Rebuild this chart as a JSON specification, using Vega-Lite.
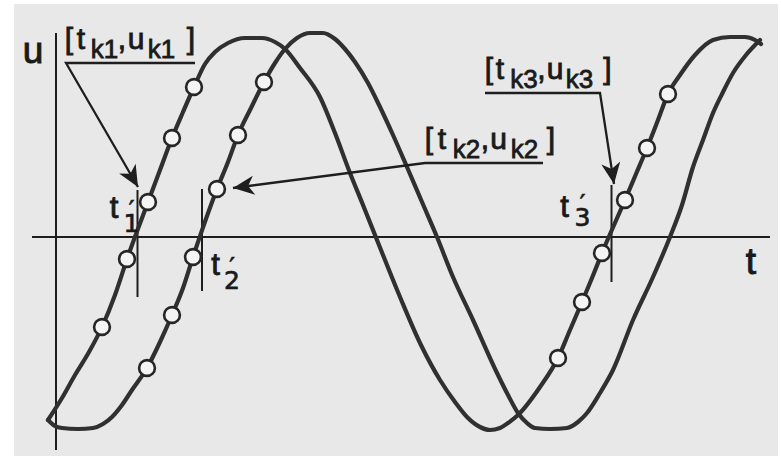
{
  "$schema": "https://vega.github.io/schema/vega-lite/v6.json",
  "width": 764,
  "height": 452,
  "autosize": {"type": "none"},
  "padding": {"left": 14, "top": 4, "right": 3, "bottom": 0},
  "background": "#ffffff",
  "config": {"view": {"fill": "#e8e8e8", "stroke": null}},
  "datasets": {
    "curves": [
      {"curve": "a", "t": -0.8, "u": -0.915, "sampled": false},
      {"curve": "a", "t": 0.6, "u": -0.805, "sampled": false},
      {"curve": "a", "t": 1.9, "u": -0.69, "sampled": false},
      {"curve": "a", "t": 3.3, "u": -0.575, "sampled": false},
      {"curve": "a", "t": 4.6, "u": -0.45, "sampled": true},
      {"curve": "a", "t": 5.9, "u": -0.29, "sampled": false},
      {"curve": "a", "t": 7.1, "u": -0.11, "sampled": true},
      {"curve": "a", "t": 9.2, "u": 0.175, "sampled": true},
      {"curve": "a", "t": 10.4, "u": 0.335, "sampled": false},
      {"curve": "a", "t": 11.6, "u": 0.495, "sampled": true},
      {"curve": "a", "t": 12.7, "u": 0.625, "sampled": false},
      {"curve": "a", "t": 13.8, "u": 0.75, "sampled": true},
      {"curve": "a", "t": 14.9, "u": 0.865, "sampled": false},
      {"curve": "a", "t": 15.9, "u": 0.925, "sampled": false},
      {"curve": "a", "t": 17.2, "u": 0.97, "sampled": false},
      {"curve": "a", "t": 18.9, "u": 0.995, "sampled": false},
      {"curve": "a", "t": 20.6, "u": 0.995, "sampled": false},
      {"curve": "a", "t": 21.9, "u": 0.975, "sampled": false},
      {"curve": "a", "t": 22.9, "u": 0.94, "sampled": false},
      {"curve": "a", "t": 24.4, "u": 0.845, "sampled": false},
      {"curve": "a", "t": 26.4, "u": 0.7, "sampled": false},
      {"curve": "a", "t": 27.9, "u": 0.52, "sampled": false},
      {"curve": "a", "t": 29.4, "u": 0.32, "sampled": false},
      {"curve": "a", "t": 30.7, "u": 0.16, "sampled": false},
      {"curve": "a", "t": 32.1, "u": -0.015, "sampled": false},
      {"curve": "a", "t": 34.4, "u": -0.3, "sampled": false},
      {"curve": "a", "t": 36.4, "u": -0.53, "sampled": false},
      {"curve": "a", "t": 38.4, "u": -0.715, "sampled": false},
      {"curve": "a", "t": 39.9, "u": -0.825, "sampled": false},
      {"curve": "a", "t": 41.1, "u": -0.9, "sampled": false},
      {"curve": "a", "t": 42.4, "u": -0.95, "sampled": false},
      {"curve": "a", "t": 43.4, "u": -0.965, "sampled": false},
      {"curve": "a", "t": 44.4, "u": -0.955, "sampled": false},
      {"curve": "a", "t": 45.2, "u": -0.93, "sampled": false},
      {"curve": "a", "t": 46.2, "u": -0.89, "sampled": false},
      {"curve": "a", "t": 48.4, "u": -0.75, "sampled": false},
      {"curve": "a", "t": 50.2, "u": -0.605, "sampled": true},
      {"curve": "a", "t": 51.4, "u": -0.465, "sampled": false},
      {"curve": "a", "t": 52.6, "u": -0.325, "sampled": true},
      {"curve": "a", "t": 53.6, "u": -0.205, "sampled": false},
      {"curve": "a", "t": 54.6, "u": -0.08, "sampled": true},
      {"curve": "a", "t": 56.9, "u": 0.185, "sampled": true},
      {"curve": "a", "t": 58.0, "u": 0.315, "sampled": false},
      {"curve": "a", "t": 59.1, "u": 0.445, "sampled": true},
      {"curve": "a", "t": 60.2, "u": 0.585, "sampled": false},
      {"curve": "a", "t": 61.2, "u": 0.715, "sampled": true},
      {"curve": "a", "t": 62.4, "u": 0.81, "sampled": false},
      {"curve": "a", "t": 63.9, "u": 0.91, "sampled": false},
      {"curve": "a", "t": 65.7, "u": 0.985, "sampled": false},
      {"curve": "a", "t": 67.4, "u": 1.0, "sampled": false},
      {"curve": "a", "t": 68.9, "u": 1.0, "sampled": false},
      {"curve": "a", "t": 69.9, "u": 0.985, "sampled": false},
      {"curve": "a", "t": 70.5, "u": 0.965, "sampled": false},
      {"curve": "b", "t": -0.8, "u": -0.915, "sampled": false},
      {"curve": "b", "t": -0.1, "u": -0.945, "sampled": false},
      {"curve": "b", "t": 0.6, "u": -0.955, "sampled": false},
      {"curve": "b", "t": 2.2, "u": -0.96, "sampled": false},
      {"curve": "b", "t": 3.7, "u": -0.955, "sampled": false},
      {"curve": "b", "t": 4.7, "u": -0.935, "sampled": false},
      {"curve": "b", "t": 5.6, "u": -0.9, "sampled": false},
      {"curve": "b", "t": 6.6, "u": -0.84, "sampled": false},
      {"curve": "b", "t": 7.6, "u": -0.765, "sampled": false},
      {"curve": "b", "t": 9.1, "u": -0.655, "sampled": true},
      {"curve": "b", "t": 10.4, "u": -0.525, "sampled": false},
      {"curve": "b", "t": 11.6, "u": -0.39, "sampled": true},
      {"curve": "b", "t": 12.7, "u": -0.255, "sampled": false},
      {"curve": "b", "t": 13.7, "u": -0.1, "sampled": true},
      {"curve": "b", "t": 16.1, "u": 0.24, "sampled": true},
      {"curve": "b", "t": 17.2, "u": 0.375, "sampled": false},
      {"curve": "b", "t": 18.2, "u": 0.51, "sampled": true},
      {"curve": "b", "t": 19.5, "u": 0.645, "sampled": false},
      {"curve": "b", "t": 20.8, "u": 0.775, "sampled": true},
      {"curve": "b", "t": 21.9, "u": 0.87, "sampled": false},
      {"curve": "b", "t": 22.9, "u": 0.94, "sampled": false},
      {"curve": "b", "t": 24.1, "u": 0.995, "sampled": false},
      {"curve": "b", "t": 25.4, "u": 1.02, "sampled": false},
      {"curve": "b", "t": 26.7, "u": 1.02, "sampled": false},
      {"curve": "b", "t": 27.9, "u": 0.99, "sampled": false},
      {"curve": "b", "t": 28.9, "u": 0.94, "sampled": false},
      {"curve": "b", "t": 29.9, "u": 0.875, "sampled": false},
      {"curve": "b", "t": 31.2, "u": 0.77, "sampled": false},
      {"curve": "b", "t": 32.4, "u": 0.65, "sampled": false},
      {"curve": "b", "t": 33.7, "u": 0.51, "sampled": false},
      {"curve": "b", "t": 35.1, "u": 0.35, "sampled": false},
      {"curve": "b", "t": 36.6, "u": 0.175, "sampled": false},
      {"curve": "b", "t": 38.1, "u": 0.0, "sampled": false},
      {"curve": "b", "t": 39.7, "u": -0.2, "sampled": false},
      {"curve": "b", "t": 41.7, "u": -0.415, "sampled": false},
      {"curve": "b", "t": 44.1, "u": -0.68, "sampled": false},
      {"curve": "b", "t": 45.2, "u": -0.79, "sampled": false},
      {"curve": "b", "t": 46.2, "u": -0.88, "sampled": false},
      {"curve": "b", "t": 47.1, "u": -0.93, "sampled": false},
      {"curve": "b", "t": 47.9, "u": -0.955, "sampled": false},
      {"curve": "b", "t": 49.4, "u": -0.96, "sampled": false},
      {"curve": "b", "t": 51.1, "u": -0.955, "sampled": false},
      {"curve": "b", "t": 52.2, "u": -0.925, "sampled": false},
      {"curve": "b", "t": 53.1, "u": -0.88, "sampled": false},
      {"curve": "b", "t": 54.4, "u": -0.78, "sampled": false},
      {"curve": "b", "t": 55.7, "u": -0.665, "sampled": false},
      {"curve": "b", "t": 57.7, "u": -0.415, "sampled": false},
      {"curve": "b", "t": 59.7, "u": -0.2, "sampled": false},
      {"curve": "b", "t": 61.4, "u": 0.0, "sampled": false},
      {"curve": "b", "t": 62.6, "u": 0.16, "sampled": false},
      {"curve": "b", "t": 63.7, "u": 0.35, "sampled": false},
      {"curve": "b", "t": 64.7, "u": 0.485, "sampled": false},
      {"curve": "b", "t": 65.7, "u": 0.62, "sampled": false},
      {"curve": "b", "t": 66.7, "u": 0.725, "sampled": false},
      {"curve": "b", "t": 67.7, "u": 0.82, "sampled": false},
      {"curve": "b", "t": 69.0, "u": 0.91, "sampled": false},
      {"curve": "b", "t": 70.4, "u": 0.985, "sampled": false}
    ],
    "axes": [
      {"name": "u axis", "t": 0, "t2": 0, "u": 1.02, "u2": -1.065},
      {"name": "t axis", "t": -2.4, "t2": 71.4, "u": 0, "u2": 0}
    ],
    "crossings": [
      {"name": "t1", "t": 8.15, "t2": 8.15, "u": 0.235, "u2": -0.3},
      {"name": "t2", "t": 14.6, "t2": 14.6, "u": 0.24, "u2": -0.27},
      {"name": "t3", "t": 55.55, "t2": 55.55, "u": 0.26, "u2": -0.225}
    ],
    "leaders": [
      {"arrow": "k1", "step": 1, "t": 13.9, "u": 0.87},
      {"arrow": "k1", "step": 2, "t": 1.0, "u": 0.87},
      {"arrow": "k1", "step": 3, "t": 8.2, "u": 0.25},
      {"arrow": "k2", "step": 1, "t": 48.7, "u": 0.37},
      {"arrow": "k2", "step": 2, "t": 36.9, "u": 0.37},
      {"arrow": "k2", "step": 3, "t": 17.7, "u": 0.245},
      {"arrow": "k3", "step": 1, "t": 42.9, "u": 0.72},
      {"arrow": "k3", "step": 2, "t": 54.4, "u": 0.72},
      {"arrow": "k3", "step": 3, "t": 55.8, "u": 0.265}
    ],
    "notes": [
      {"role": "main", "text": "[", "t": 1.3, "u": 0.94},
      {"role": "main", "text": "t", "t": 2.5, "u": 0.94},
      {"role": "sub", "text": "k1", "t": 4.85, "u": 0.895},
      {"role": "main", "text": ",", "t": 6.6, "u": 0.94},
      {"role": "main", "text": "u", "t": 8.0, "u": 0.94},
      {"role": "sub", "text": "k1", "t": 10.55, "u": 0.895},
      {"role": "main", "text": "]", "t": 13.5, "u": 0.94},
      {"role": "main", "text": "[", "t": 37.3, "u": 0.44},
      {"role": "main", "text": "t", "t": 38.6, "u": 0.44},
      {"role": "sub", "text": "k2", "t": 41.05, "u": 0.395},
      {"role": "main", "text": ",", "t": 42.9, "u": 0.44},
      {"role": "main", "text": "u", "t": 44.25, "u": 0.44},
      {"role": "sub", "text": "k2", "t": 46.85, "u": 0.395},
      {"role": "main", "text": "]", "t": 49.5, "u": 0.44},
      {"role": "main", "text": "[", "t": 43.3, "u": 0.79},
      {"role": "main", "text": "t", "t": 44.4, "u": 0.79},
      {"role": "sub", "text": "k3", "t": 46.8, "u": 0.745},
      {"role": "main", "text": ",", "t": 48.55, "u": 0.79},
      {"role": "main", "text": "u", "t": 49.9, "u": 0.79},
      {"role": "sub", "text": "k3", "t": 52.35, "u": 0.745},
      {"role": "main", "text": "]", "t": 55.15, "u": 0.79},
      {"role": "tick", "text": "t", "t": 5.8, "u": 0.095},
      {"role": "index", "text": ["′", "1"], "t": 7.55, "u": 0.095},
      {"role": "tick", "text": "t", "t": 15.95, "u": -0.19},
      {"role": "index", "text": ["′", "2"], "t": 17.6, "u": -0.19},
      {"role": "tick", "text": "t", "t": 50.85, "u": 0.1},
      {"role": "index", "text": ["′", "3"], "t": 52.65, "u": 0.125},
      {"role": "axis", "text": "u", "t": -2.3, "u": 0.87},
      {"role": "axis", "text": "t", "t": 69.5, "u": -0.185}
    ],
    "heads": [
      {"arrow": "k1", "t": 8.2, "u": 0.25},
      {"arrow": "k2", "t": 17.7, "u": 0.245},
      {"arrow": "k3", "t": 55.8, "u": 0.265}
    ]
  },
  "encoding": {
    "x": {"field": "t", "type": "quantitative", "scale": {"domain": [-4.2, 72.2], "nice": false, "zero": false}, "axis": null},
    "y": {"field": "u", "type": "quantitative", "scale": {"domain": [-1.095, 1.165], "nice": false, "zero": false}, "axis": null}
  },
  "layer": [
    {
      "data": {"name": "axes"},
      "mark": {"type": "rule", "color": "#1e1e1e", "strokeWidth": 2},
      "encoding": {"x2": {"field": "t2"}, "y2": {"field": "u2"}}
    },
    {
      "data": {"name": "crossings"},
      "mark": {"type": "rule", "color": "#1e1e1e", "strokeWidth": 2},
      "encoding": {"x2": {"field": "t2"}, "y2": {"field": "u2"}}
    },
    {
      "data": {"name": "curves"},
      "mark": {"type": "line", "color": "#303030", "strokeWidth": 4.2, "interpolate": "monotone", "strokeCap": "round", "strokeJoin": "round"},
      "encoding": {"detail": {"field": "curve"}}
    },
    {
      "data": {"name": "curves"},
      "transform": [{"filter": "datum.sampled"}],
      "mark": {"type": "point", "shape": "circle", "filled": true, "fill": "#f4f4f4", "stroke": "#262626", "strokeWidth": 2.6, "size": 250, "opacity": 1}
    },
    {
      "data": {"name": "leaders"},
      "mark": {"type": "line", "color": "#1e1e1e", "strokeWidth": 2.3},
      "encoding": {"detail": {"field": "arrow"}, "order": {"field": "step", "type": "quantitative"}}
    },
    {
      "data": {"name": "heads"},
      "transform": [{"filter": "datum.arrow === 'k1'"}],
      "mark": {"type": "point", "shape": "M0,0L-0.45,-1L0,-0.72L0.45,-1Z", "angle": -30, "size": 1800, "filled": true, "color": "#1e1e1e", "opacity": 1}
    },
    {
      "data": {"name": "heads"},
      "transform": [{"filter": "datum.arrow === 'k2'"}],
      "mark": {"type": "point", "shape": "M0,0L-0.45,-1L0,-0.72L0.45,-1Z", "angle": 82.6, "size": 1800, "filled": true, "color": "#1e1e1e", "opacity": 1}
    },
    {
      "data": {"name": "heads"},
      "transform": [{"filter": "datum.arrow === 'k3'"}],
      "mark": {"type": "point", "shape": "M0,0L-0.45,-1L0,-0.72L0.45,-1Z", "angle": -8.7, "size": 1800, "filled": true, "color": "#1e1e1e", "opacity": 1}
    },
    {
      "data": {"name": "notes"},
      "transform": [{"filter": "datum.role === 'main'"}],
      "mark": {"type": "text", "font": "Liberation Sans", "fontSize": 30, "align": "center", "baseline": "alphabetic", "color": "#1a1a1a", "stroke": "#1a1a1a", "strokeWidth": 0.9},
      "encoding": {"text": {"field": "text"}}
    },
    {
      "data": {"name": "notes"},
      "transform": [{"filter": "datum.role === 'sub'"}],
      "mark": {"type": "text", "font": "Liberation Sans", "fontSize": 26, "align": "center", "baseline": "alphabetic", "color": "#1a1a1a", "stroke": "#1a1a1a", "strokeWidth": 0.8},
      "encoding": {"text": {"field": "text"}}
    },
    {
      "data": {"name": "notes"},
      "transform": [{"filter": "datum.role === 'tick'"}],
      "mark": {"type": "text", "font": "Liberation Sans", "fontSize": 31, "align": "center", "baseline": "alphabetic", "color": "#1a1a1a", "stroke": "#1a1a1a", "strokeWidth": 0.9},
      "encoding": {"text": {"field": "text"}}
    },
    {
      "data": {"name": "notes"},
      "transform": [{"filter": "datum.role === 'index'"}],
      "mark": {"type": "text", "font": "DejaVu Sans", "fontSize": 25, "lineHeight": 14, "align": "center", "baseline": "alphabetic", "color": "#1a1a1a", "stroke": "#1a1a1a", "strokeWidth": 0.7},
      "encoding": {"text": {"field": "text"}}
    },
    {
      "data": {"name": "notes"},
      "transform": [{"filter": "datum.role === 'axis'"}],
      "mark": {"type": "text", "font": "Liberation Sans", "fontSize": 37, "align": "center", "baseline": "alphabetic", "color": "#1a1a1a", "stroke": "#1a1a1a", "strokeWidth": 1},
      "encoding": {"text": {"field": "text"}}
    }
  ]
}
